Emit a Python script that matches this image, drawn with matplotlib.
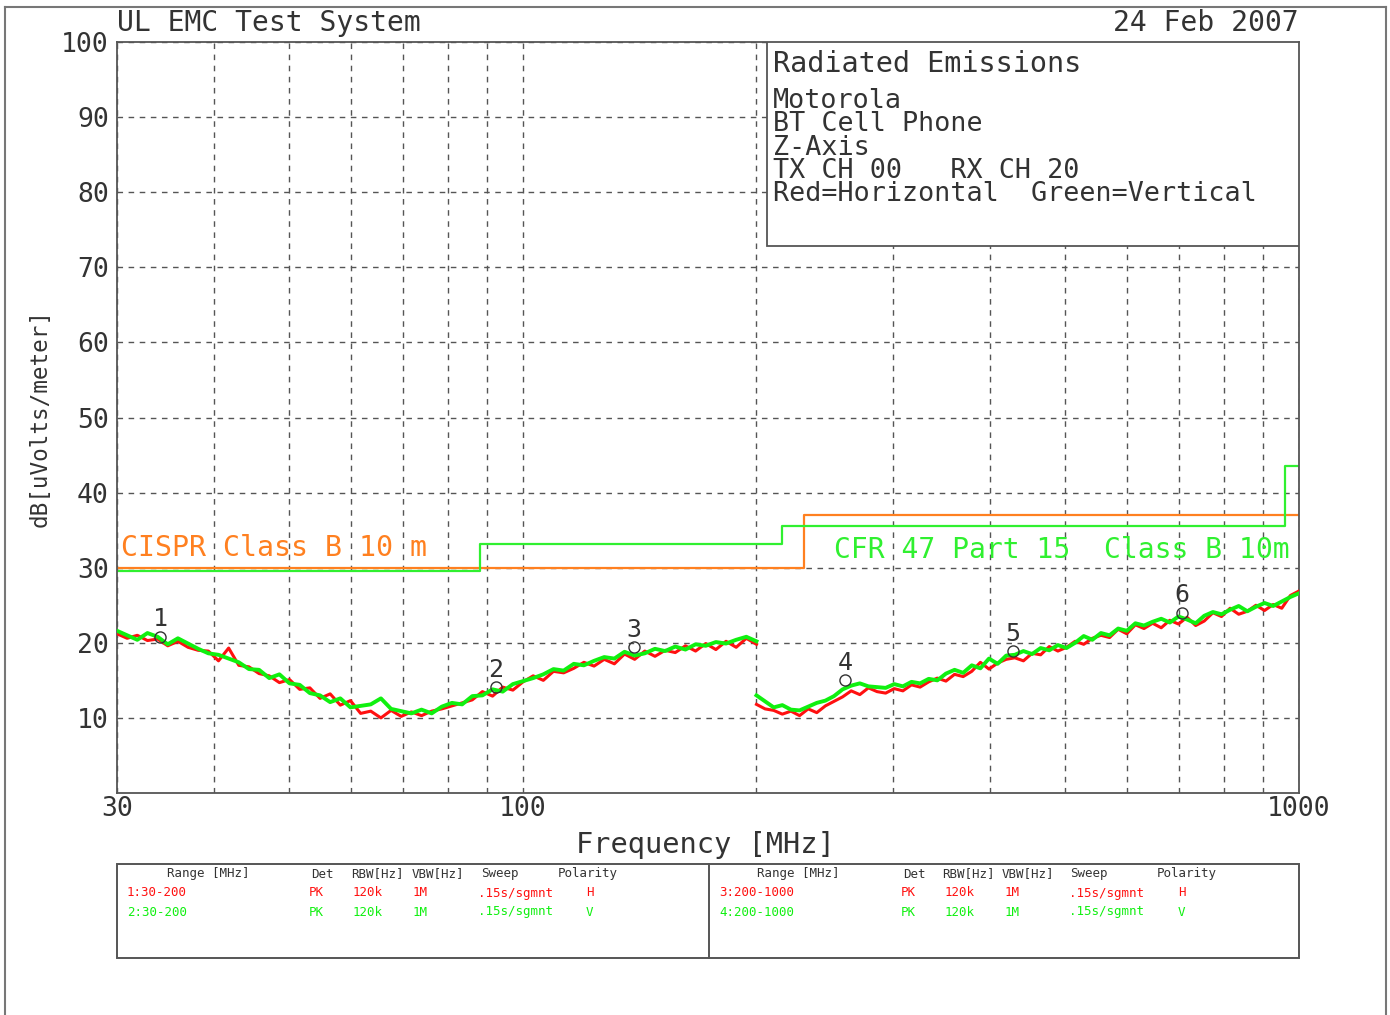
import numpy as np
import matplotlib
matplotlib.use("Agg")
import matplotlib.pyplot as plt
from matplotlib.patches import Rectangle
from matplotlib.lines import Line2D

# ---- data ----
# sweep 1: 30-200 MHz, sweep 2: 200-1000 MHz (64 points each, log spaced)
f_low = np.geomspace(30, 200, 64)
f_high = np.geomspace(200, 1000, 64)

red_low = [21.2, 20.6, 21.0, 20.3, 20.5, 19.6, 20.2, 19.4, 19.0, 18.9,
           17.6, 19.3, 17.0, 16.8, 15.9, 15.6, 14.7, 15.1, 13.8, 14.0,
           12.6, 13.2, 11.7, 12.3, 10.6, 10.9, 10.0, 11.0, 10.2, 10.8,
           10.3, 10.9, 11.2, 11.6, 12.0, 12.4, 13.5, 12.9, 14.1, 13.7,
           14.8, 15.6, 15.0, 16.2, 16.0, 16.6, 17.4, 16.9, 17.8, 17.2,
           18.5, 17.8, 18.9, 18.2, 19.0, 18.7, 19.6, 18.9, 19.9, 19.1,
           20.2, 19.4, 20.6, 19.8]
green_low = [21.6, 21.0, 20.4, 21.3, 20.8, 19.8, 20.6, 19.9, 19.2, 18.6,
             18.4, 17.9, 17.4, 16.5, 16.4, 15.3, 15.8, 14.6, 14.4, 13.3,
             13.0, 12.1, 12.6, 11.4, 11.6, 11.8, 12.6, 11.2, 10.9, 10.6,
             11.1, 10.6, 11.5, 12.0, 11.8, 12.9, 13.0, 13.8, 13.5, 14.5,
             14.9, 15.3, 15.8, 16.5, 16.3, 17.2, 17.0, 17.6, 18.1, 17.9,
             18.8, 18.3, 18.6, 19.2, 18.9, 19.5, 19.1, 19.8, 19.6, 20.1,
             19.9, 20.4, 20.8, 20.2]
red_high = [11.8, 11.2, 11.0, 10.5, 10.9, 10.3, 11.2, 10.7, 11.6, 12.2,
            12.8, 13.6, 13.1, 14.0, 13.5, 13.3, 13.9, 13.6, 14.4, 14.1,
            14.8, 15.3, 14.9, 15.8, 15.5, 16.2, 17.4, 16.5, 17.3, 17.8,
            18.0, 17.6, 18.6, 18.4, 19.5, 18.9, 19.4, 20.2, 19.8, 20.6,
            21.0, 20.7, 21.8, 21.2, 22.4, 21.9, 22.6, 22.0, 23.0, 22.5,
            23.4, 22.3, 22.9, 24.0, 23.5, 24.6, 23.8, 24.2, 25.0, 24.3,
            25.1, 24.6, 26.3, 26.9]
green_high = [13.0, 12.2, 11.4, 11.7, 11.1, 11.0, 11.5, 12.0, 12.3, 12.9,
              13.8, 14.3, 14.6, 14.2, 14.1, 14.0, 14.5, 14.2, 14.8, 14.6,
              15.2, 15.0, 15.9, 16.4, 16.0, 17.0, 16.6, 17.9, 17.2, 18.3,
              18.4, 18.9, 18.5, 19.3, 19.0, 19.7, 19.3, 20.0, 20.9, 20.4,
              21.3, 21.0, 21.9, 21.6, 22.6, 22.3, 22.8, 23.2, 22.7, 23.5,
              23.1, 22.6, 23.6, 24.1, 23.8, 24.4, 24.9, 24.2, 24.8, 25.3,
              24.9, 25.5, 26.1, 26.6]

# limit lines (step edges)
cispr_f = [30, 230, 230, 1000]
cispr_db = [30, 30, 37, 37]
fcc_f = [30, 88, 88, 216, 216, 960, 960, 1000]
fcc_db = [29.5, 29.5, 33.1, 33.1, 35.6, 35.6, 43.5, 43.5]

# peak markers
mark_f = [34.1, 92.3, 139, 260, 428, 706]
mark_db = [20.8, 14.1, 19.4, 15.0, 18.9, 24.0]
mark_lbl = ['1', '2', '3', '4', '5', '6']

info_lines = ['Motorola', 'BT Cell Phone', 'Z-Axis', 'TX CH 00   RX CH 20',
              'Red=Horizontal  Green=Vertical']

tbl_head = ['Range [MHz]', 'Det', 'RBW[Hz]', 'VBW[Hz]', 'Sweep', 'Polarity']
tbl_left = [['1:30-200', 'PK', '120k', '1M', '.15s/sgmnt', 'H'],
            ['2:30-200', 'PK', '120k', '1M', '.15s/sgmnt', 'V']]
tbl_right = [['3:200-1000', 'PK', '120k', '1M', '.15s/sgmnt', 'H'],
             ['4:200-1000', 'PK', '120k', '1M', '.15s/sgmnt', 'V']]

RED = '#ff1010'
GREEN = '#10f010'
ORANGE = '#ff8020'
LIMGREEN = '#30f030'
INK = '#333333'
MONO = 'DejaVu Sans Mono'

W, H = 1390, 1015
fig = plt.figure(figsize=(W / 100, H / 100), dpi=100)

def fx(px):
    return px / W

def fy(py):
    return 1 - py / H

# outer frame of the plotter page
for xs, ys in [([5, 5], [7, H]), ([5, 1386], [7, 7]), ([1386, 1386], [7, H])]:
    fig.add_artist(Line2D([fx(v) for v in xs], [fy(v) for v in ys],
                          color='#777777', lw=1.5))

ax = fig.add_axes([fx(117), fy(793), fx(1299 - 117), (793 - 42) / H])
ax.set_xscale('log')
ax.set_xlim(30, 1000)
ax.set_ylim(0, 100)

ax.set_xticks([30, 100, 1000])
ax.set_xticklabels(['30', '100', '1000'])
ax.set_xticks([40, 50, 60, 70, 80, 90, 200, 300, 400, 500, 600, 700, 800, 900],
              minor=True)
ax.xaxis.set_minor_formatter(plt.NullFormatter())
ax.set_yticks(range(10, 101, 10))
ax.tick_params(which='both', length=0)
ax.tick_params(axis='y', pad=6, labelsize=19)
ax.tick_params(axis='x', pad=2, labelsize=19)
for lab in ax.get_xticklabels() + ax.get_yticklabels():
    lab.set_family(MONO)
    lab.set_color(INK)

ax.grid(True, which='both', color='#555555', ls=(0, (4, 4)), lw=1.0)
ax.set_axisbelow(True)
for sp in ax.spines.values():
    sp.set_color('#555555')
    sp.set_linewidth(1.3)

# limit lines
ax.plot(cispr_f, cispr_db, color=ORANGE, lw=1.6, zorder=2)
ax.plot(fcc_f, fcc_db, color=LIMGREEN, lw=1.6, zorder=2)

# traces
ax.plot(f_low, red_low, color=RED, lw=2.2, zorder=3)
ax.plot(f_high, red_high, color=RED, lw=2.2, zorder=3)
ax.plot(f_low, green_low, color=GREEN, lw=2.8, zorder=3)
ax.plot(f_high, green_high, color=GREEN, lw=2.8, zorder=3)

# markers
ax.plot(mark_f, mark_db, ls='none', marker='o', ms=8, mfc='none',
        mec=INK, mew=1.0, zorder=5)
for f, d, t in zip(mark_f, mark_db, mark_lbl):
    ax.annotate(t, (f, d), xytext=(0, 4), textcoords='offset points',
                ha='center', va='bottom', fontsize=18, family=MONO,
                color=INK, zorder=5)

ax.text((121 - 117) / 1182, (793 - 548) / 751, 'CISPR Class B 10 m',
        transform=ax.transAxes, color=ORANGE, fontsize=20.3, family=MONO,
        va='center', ha='left')
ax.text((834 - 117) / 1182, (793 - 550) / 751, 'CFR 47 Part 15  Class B 10m',
        transform=ax.transAxes, color=LIMGREEN, fontsize=20.2, family=MONO,
        va='center', ha='left')

# info box
x0 = (767 - 117) / 1182
y0 = (793 - 246) / 751
ax.add_patch(Rectangle((x0, y0), 1 - x0, 1 - y0, transform=ax.transAxes,
                       facecolor='white', edgecolor='#555555', lw=1.3,
                       zorder=6))
fig.text(fx(773), fy(64), 'Radiated Emissions', fontsize=20.5, family=MONO,
         color=INK, va='center', zorder=7)
for i, line in enumerate(info_lines):
    fig.text(fx(773), fy(101 + 23.3 * i), line, fontsize=19.3, family=MONO,
             color=INK, va='center', zorder=7)

# titles and axis labels
fig.text(fx(117), fy(23), 'UL EMC Test System', fontsize=20.2, family=MONO,
         color=INK, va='center', ha='left')
fig.text(fx(1299), fy(23), '24 Feb 2007', fontsize=20.2, family=MONO,
         color=INK, va='center', ha='right')
fig.text(fx(705), fy(845), 'Frequency [MHz]', fontsize=20.6, family=MONO,
         color=INK, va='center', ha='center')
fig.text(fx(40), fy(418), 'dB[uVolts/meter]', fontsize=16.3, family=MONO,
         color=INK, va='center', ha='center', rotation=90)

# settings table
fig.add_artist(Rectangle((fx(117), fy(958)), fx(1299 - 117), (958 - 864) / H,
                         facecolor='none', edgecolor='#555555', lw=1.4))
fig.add_artist(Line2D([fx(709), fx(709)], [fy(864), fy(958)],
                      color='#555555', lw=1.4))

head_x_left = [167, 311, 351, 412, 481, 558]
row_x_left = [127, 309, 353, 413, 478, 586]
head_x_right = [757, 903, 942, 1002, 1070, 1157]
row_x_right = [719, 901, 945, 1005, 1069, 1178]
for hx, rx, rows in [(head_x_left, row_x_left, tbl_left),
                     (head_x_right, row_x_right, tbl_right)]:
    for x, t in zip(hx, tbl_head):
        fig.text(fx(x), fy(874), t, fontsize=9, family=MONO,
                 color=INK, va='center', ha='left')
    for r, (row, col) in enumerate(zip(rows, [RED, GREEN])):
        for x, t in zip(rx, row):
            fig.text(fx(x), fy(893 + 19 * r), t, fontsize=9, family=MONO,
                     color=col, va='center', ha='left')

fig.savefig('out.png', dpi=100, facecolor='white')
